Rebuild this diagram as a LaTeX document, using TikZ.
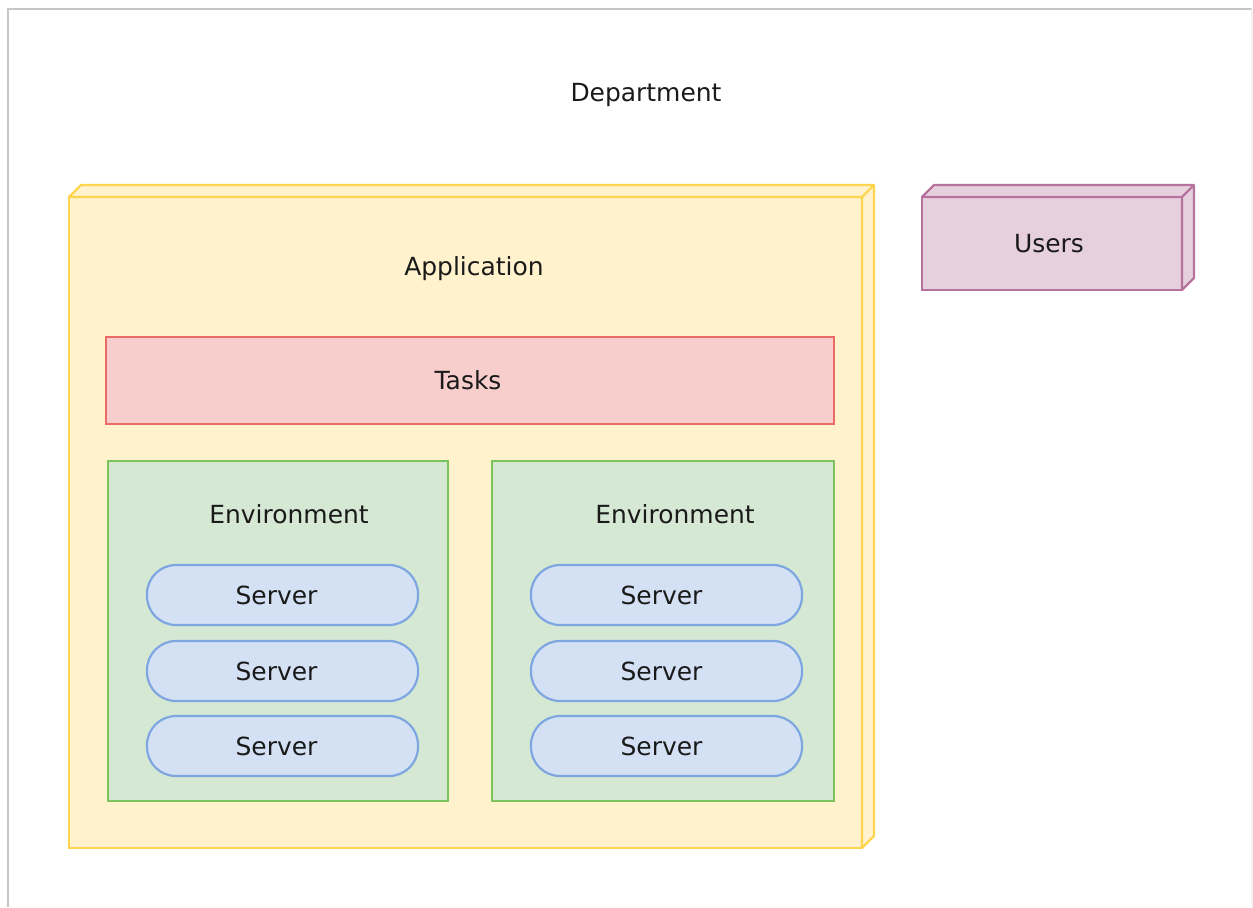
\documentclass[tikz,border=0pt]{standalone}
\usepackage{fontspec}
\setmainfont{DejaVu Sans}
\newcommand{\px}{0.02cm}
\definecolor{appfill}{HTML}{FFF2CC}
\definecolor{appline}{HTML}{FFD54F}
\definecolor{taskfill}{HTML}{F8CECC}
\definecolor{taskline}{HTML}{EA6B66}
\definecolor{envfill}{HTML}{D5E8D4}
\definecolor{envline}{HTML}{7DC35B}
\definecolor{srvfill}{HTML}{D4E1F5}
\definecolor{srvline}{HTML}{7EA6E0}
\definecolor{usrfill}{HTML}{E6D0DE}
\definecolor{usrline}{HTML}{B5739D}
\definecolor{txt}{HTML}{1A1A1A}
\tikzset{
  lbl/.style={font=\fontsize{14.2}{17}\selectfont, text=txt},
  box/.style={draw, line width=1.25pt, inner sep=0pt, outer sep=0pt, anchor=north west},
  appbox/.style={box, fill=appfill, draw=appline},
  taskbox/.style={box, fill=taskfill, draw=taskline},
  envbox/.style={box, fill=envfill, draw=envline},
  srvbox/.style={box, fill=srvfill, draw=srvline, rounded corners=29*\px,
    minimum width=271*\px, minimum height=60*\px},
  usrbox/.style={box, fill=usrfill, draw=usrline},
}
\begin{document}
\begin{tikzpicture}[x=0.02cm, y=-0.02cm]
  \useasboundingbox (0,0) rectangle (1253,907);
  % frame
  \draw[gray!45, line width=1.1pt] (8,907) -- (8,9) -- (1252,9);
  \draw[gray!10, line width=0.6pt] (1252,9) -- (1252,907);

  \node[lbl] (dept) at (646,95) {Department};

  % application cube
  \node[appbox, minimum width=793*\px, minimum height=651*\px] (app) at (69,197) {};
  \filldraw[fill=appfill, draw=appline, line width=1.25pt, line join=round]
    (app.north west) -- ([shift={(12,-12)}]app.north west)
    -- ([shift={(12,-12)}]app.north east) -- ([shift={(12,-12)}]app.south east)
    -- (app.south east) -- (app.north east) -- cycle;
  \draw[appline, line width=1.25pt] (app.north east) -- ([shift={(12,-12)}]app.north east);
  \node[lbl] (applbl) at (474,269) {Application};

  \node[taskbox, minimum width=728*\px, minimum height=87*\px] (tasks) at (106,337) {};
  \node[lbl] at ([shift={(-2,0)}]tasks.center) {Tasks};

  % environments
  \node[envbox, minimum width=340*\px, minimum height=340*\px] (envA) at (108,461) {};
  \node[envbox, minimum width=342*\px, minimum height=340*\px] (envB) at (492,461) {};
  \node[lbl] (envAlbl) at (289,514) {Environment};
  \node[lbl] (envBlbl) at (675,514) {Environment};

  \foreach \sy [count=\i] in {565,641,716} {
    \node[srvbox] (srvA\i) at (147,\sy) {};
    \node[lbl] at ([shift={(-6,0)}]srvA\i.center) {Server};
    \node[srvbox] (srvB\i) at (531,\sy) {};
    \node[lbl] at ([shift={(-5,0)}]srvB\i.center) {Server};
  }

  % users cube
  \node[usrbox, minimum width=260*\px, minimum height=93*\px] (users) at (922,197) {};
  \filldraw[fill=usrfill, draw=usrline, line width=1.25pt, line join=round]
    (users.north west) -- ([shift={(12,-12)}]users.north west)
    -- ([shift={(12,-12)}]users.north east) -- ([shift={(12,-12)}]users.south east)
    -- (users.south east) -- (users.north east) -- cycle;
  \draw[usrline, line width=1.25pt] (users.north east) -- ([shift={(12,-12)}]users.north east);
  \node[lbl] at ([shift={(-3,0)}]users.center) {Users};
\end{tikzpicture}
\end{document}
